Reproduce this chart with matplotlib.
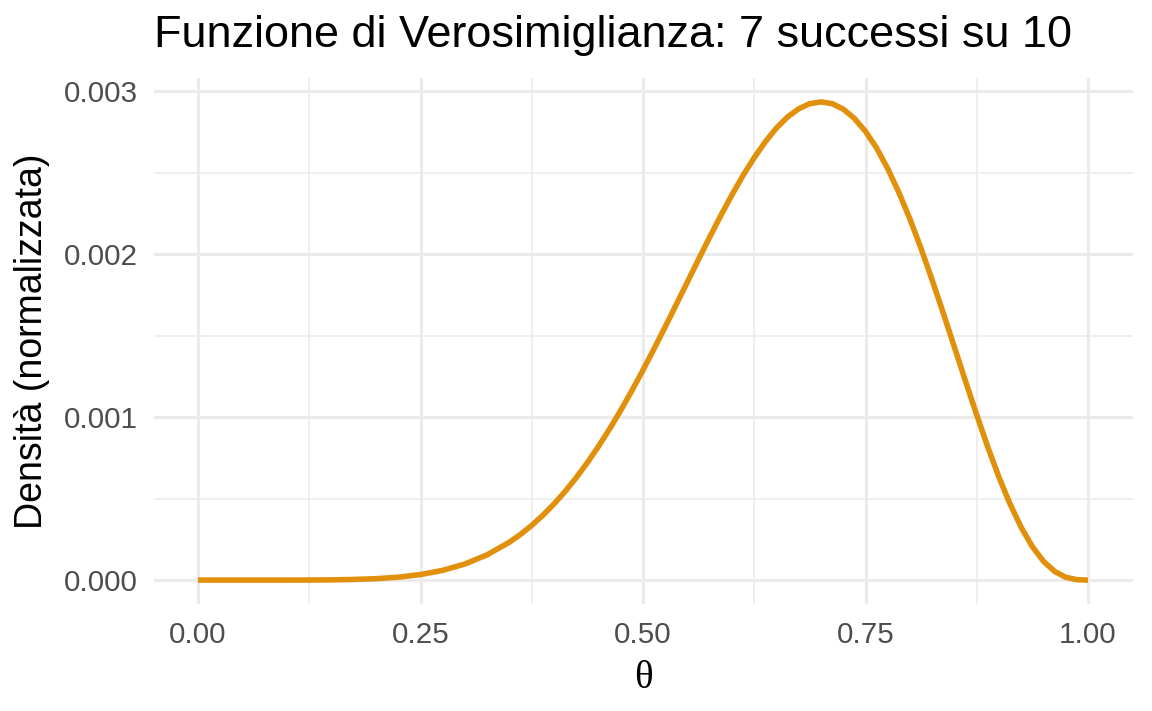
import matplotlib
matplotlib.use("Agg")
import matplotlib.pyplot as plt
from matplotlib.ticker import MultipleLocator

theta = [0.0000, 0.0250, 0.0500, 0.0750, 0.1000, 0.1250, 0.1500, 0.1750, 0.2000, 0.2250,
         0.2500, 0.2750, 0.3000, 0.3250, 0.3500, 0.3625, 0.3750, 0.3875, 0.4000, 0.4125,
         0.4250, 0.4375, 0.4500, 0.4625, 0.4750, 0.4875, 0.5000, 0.5125, 0.5250, 0.5375,
         0.5500, 0.5625, 0.5750, 0.5875, 0.6000, 0.6125, 0.6250, 0.6375, 0.6500, 0.6625,
         0.6750, 0.6875, 0.7000, 0.7125, 0.7250, 0.7375, 0.7500, 0.7625, 0.7750, 0.7875,
         0.8000, 0.8125, 0.8250, 0.8375, 0.8500, 0.8625, 0.8750, 0.8875, 0.9000, 0.9125,
         0.9250, 0.9375, 0.9500, 0.9625, 0.9750, 0.9875, 1.0000]
density = [0.0, 0.0, 0.0, 0.0, 0.0000001, 0.0000004, 0.0000014, 0.0000040, 0.0000086, 0.0000179,
           0.0000340, 0.0000598, 0.0000990, 0.0001555, 0.0002330, 0.0002810, 0.0003360, 0.0003978, 0.0004670, 0.0005440,
           0.0006290, 0.0007208, 0.0008210, 0.0009279, 0.0010420, 0.0011629, 0.0012890, 0.0014204, 0.0015550, 0.0016927,
           0.0018310, 0.0019697, 0.0021060, 0.0022384, 0.0023650, 0.0024842, 0.0025930, 0.0026909, 0.0027750, 0.0028429,
           0.0028930, 0.0029247, 0.0029350, 0.0029245, 0.0028910, 0.0028336, 0.0027540, 0.0026518, 0.0025250, 0.0023791,
           0.0022150, 0.0020341, 0.0018400, 0.0016372, 0.0014280, 0.0012185, 0.0010130, 0.0008152, 0.0006310, 0.0004658,
           0.0003230, 0.0002051, 0.0001150, 0.0000533, 0.0000173, 0.0000024, 0.0]

x_ticks = [0.00, 0.25, 0.50, 0.75, 1.00]
x_labels = ["0.00", "0.25", "0.50", "0.75", "1.00"]
y_ticks = [0.000, 0.001, 0.002, 0.003]
y_labels = ["0.000", "0.001", "0.002", "0.003"]

plt.rcParams['font.family'] = ['Liberation Sans', 'DejaVu Sans']

fig = plt.figure(figsize=(11.52, 7.11), dpi=100)
ax = fig.add_axes([153.5/1152, 1 - 604/711, (1132.5-153.5)/1152, (604-78)/711])

ax.plot(theta, density, color='#E0900B', lw=4.0, solid_capstyle='butt',
        solid_joinstyle='round', zorder=3)

xmin, xmax = min(theta), max(theta)
ymin, ymax = min(density), max(density)
xr = xmax - xmin
yr = ymax - ymin
ax.set_xlim(xmin - 0.05*xr, xmax + 0.05*xr)
ax.set_ylim(ymin - 0.05*yr, ymax + 0.05*yr)

ax.set_xticks(x_ticks)
ax.set_xticklabels(x_labels)
ax.set_yticks(y_ticks)
ax.set_yticklabels(y_labels)
ax.xaxis.set_minor_locator(MultipleLocator(0.125))
ax.yaxis.set_minor_locator(MultipleLocator(0.0005))

ax.grid(which='major', color='#EBEBEB', lw=2.2)
ax.grid(which='minor', color='#EBEBEB', lw=1.1)
ax.set_axisbelow(True)
for s in ax.spines.values():
    s.set_visible(False)
ax.tick_params(which='both', length=0)
ax.tick_params(axis='both', labelsize=21.3, labelcolor='#4D4D4D')
ax.tick_params(axis='x', pad=12)
ax.tick_params(axis='y', pad=11)

ax.set_xlabel('θ', fontsize=28, family=['Liberation Serif', 'DejaVu Serif'], labelpad=8)
ax.set_ylabel('Densità (normalizzata)', fontsize=27, labelpad=10)
ax.set_title('Funzione di Verosimiglianza: 7 successi su 10', fontsize=32.4, loc='left', pad=22)

fig.savefig('out.png', dpi=100, facecolor='white')
